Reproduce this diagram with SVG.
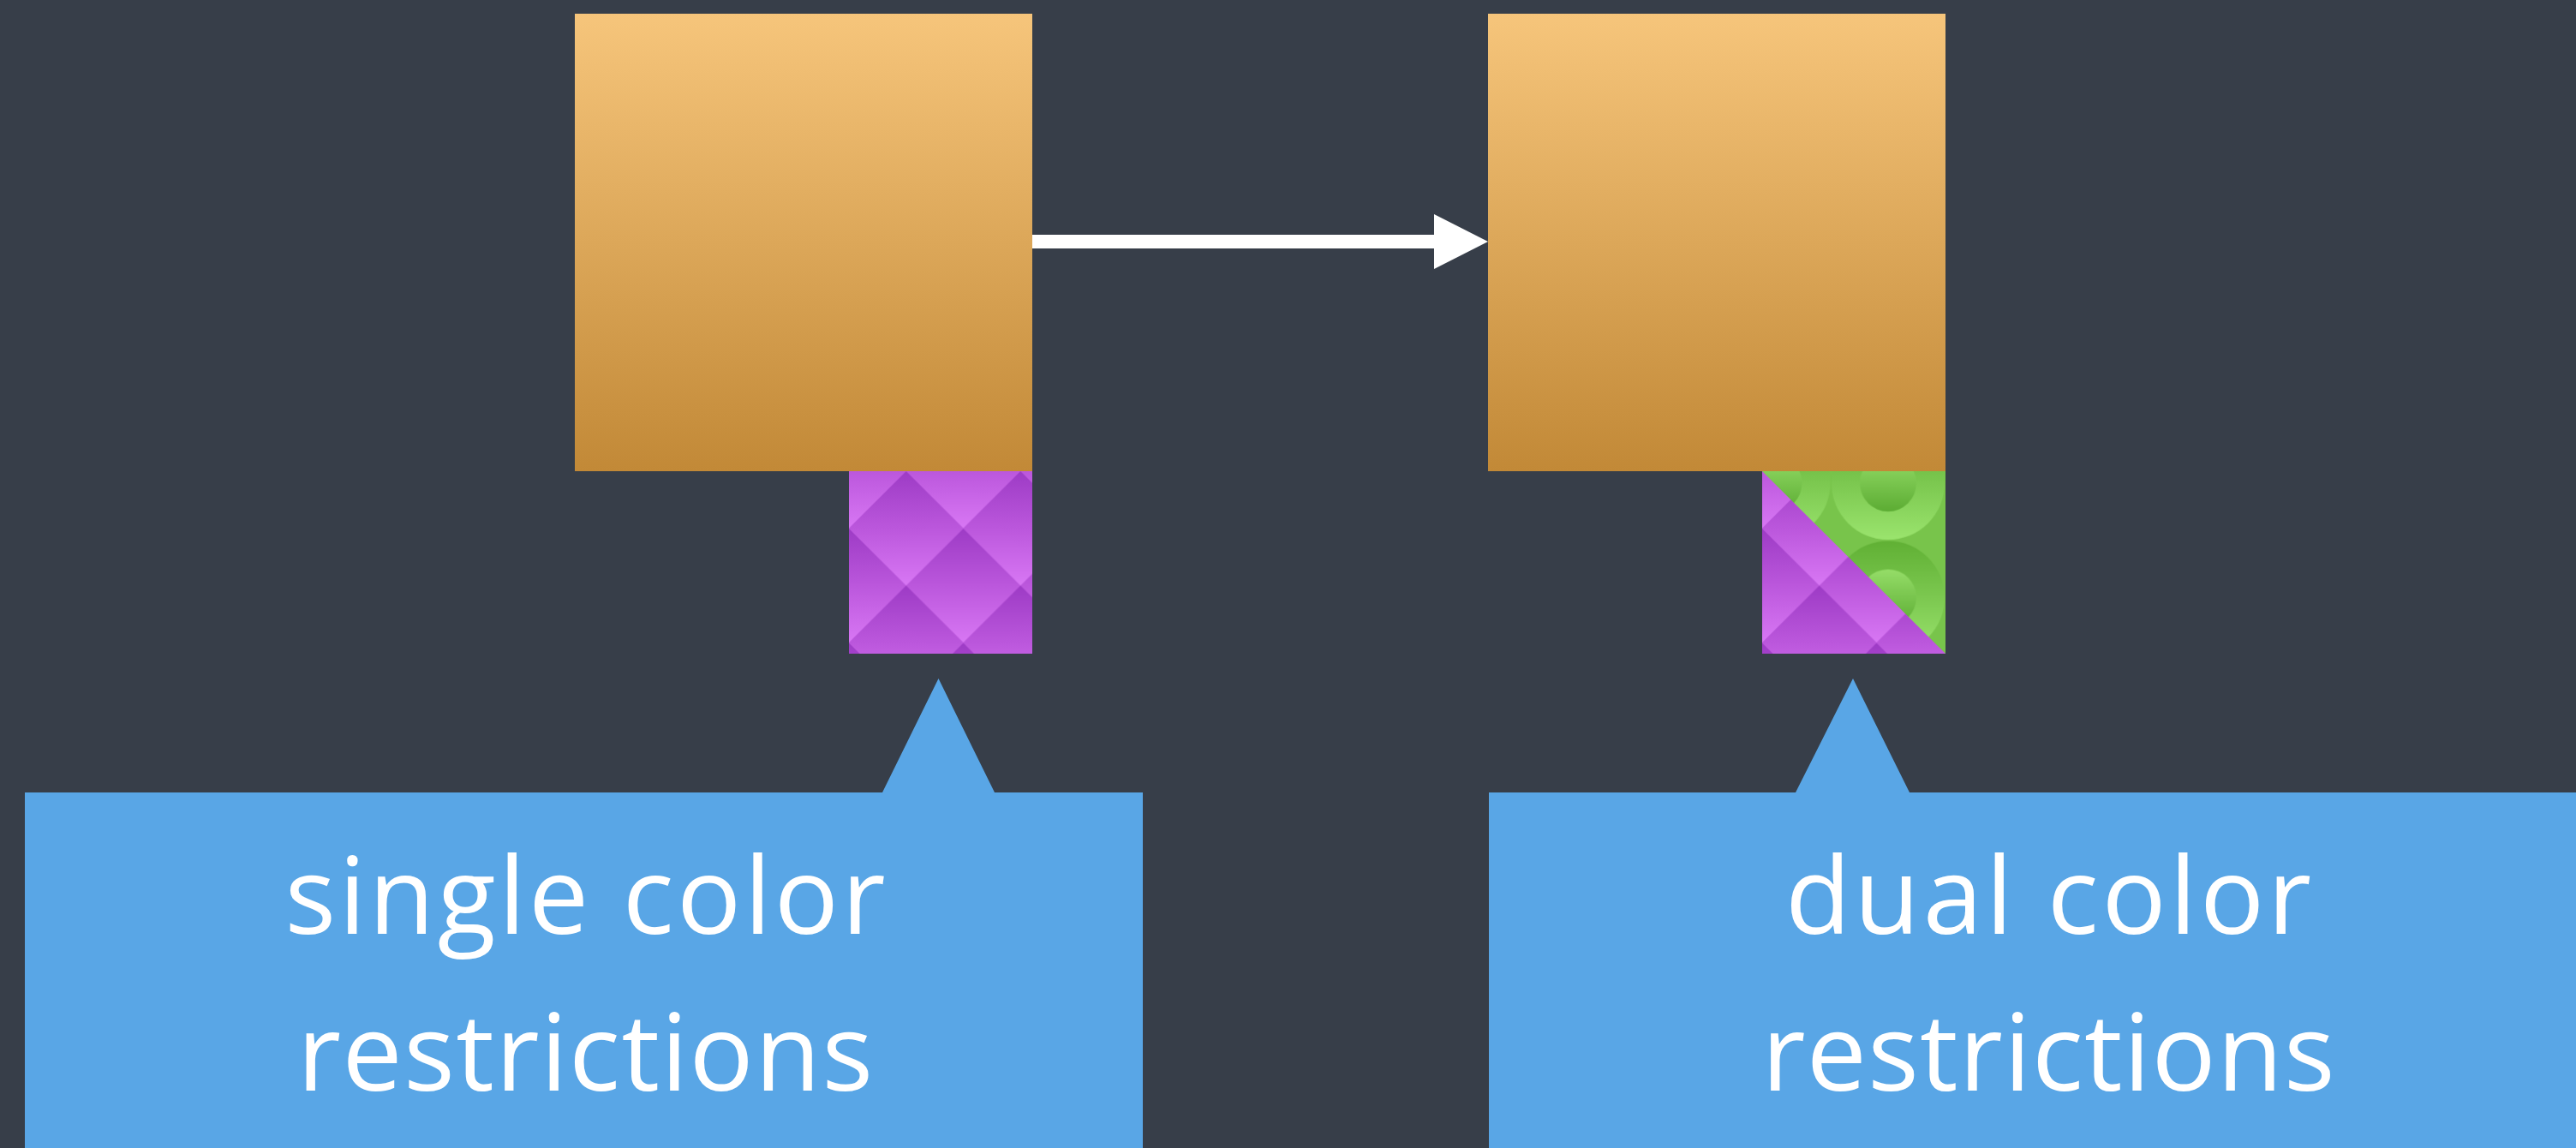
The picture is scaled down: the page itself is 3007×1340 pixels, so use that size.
<svg xmlns="http://www.w3.org/2000/svg" width="3007" height="1340" viewBox="0 0 3007 1340">
  <style>
    .box { fill: url(#orange); }
    .callout { fill: #59a6e6; }
    .label { fill: #ffffff; font-family: "Open Sans", "Liberation Sans", sans-serif; font-size: 125px; font-weight: 400; text-anchor: middle; }
    .conn { stroke: #ffffff; stroke-width: 16; fill: none; }
  </style>
  <defs>
    <linearGradient id="orange" x1="0" y1="0" x2="0" y2="1">
      <stop offset="0" stop-color="#f6c57b"/>
      <stop offset="1" stop-color="#c28937"/>
    </linearGradient>
    <linearGradient id="dia" x1="0" y1="0" x2="0" y2="1">
      <stop offset="0" stop-color="#9d3bc5"/>
      <stop offset="0.5" stop-color="#bb57dc"/>
      <stop offset="1" stop-color="#d877f4"/>
    </linearGradient>
    <linearGradient id="ringOuter" x1="0" y1="0" x2="0" y2="1">
      <stop offset="0" stop-color="#60b034"/>
      <stop offset="0.5" stop-color="#7cc850"/>
      <stop offset="1" stop-color="#9ae46d"/>
    </linearGradient>
    <linearGradient id="ringInner" x1="0" y1="0" x2="0" y2="1">
      <stop offset="0" stop-color="#95dd68"/>
      <stop offset="1" stop-color="#5cac33"/>
    </linearGradient>
    <g id="d">
      <polygon points="0,-66.75 66.75,0 0,66.75 -66.75,0" fill="url(#dia)"/>
    </g>
    <g id="r">
      <circle r="66" fill="url(#ringOuter)"/>
      <circle r="33" fill="url(#ringInner)"/>
    </g>
    <pattern id="purple" patternUnits="userSpaceOnUse" x="0" y="0" width="133.5" height="133.5">
      <rect width="133.5" height="133.5" fill="#bb57dc"/>
      <use href="#d" x="0" y="0"/>
      <use href="#d" x="133.5" y="0"/>
      <use href="#d" x="0" y="133.5"/>
      <use href="#d" x="133.5" y="133.5"/>
      <use href="#d" x="66.75" y="66.75"/>
    </pattern>
    <pattern id="green" patternUnits="userSpaceOnUse" x="0" y="0" width="133.5" height="133.5">
      <rect width="133.5" height="133.5" fill="#78c44b"/>
      <use href="#r" x="13.5" y="14"/>
      <use href="#r" x="147" y="14"/>
      <use href="#r" x="13.5" y="147.5"/>
      <use href="#r" x="147" y="147.5"/>
    </pattern>
    <marker id="arrow" markerUnits="userSpaceOnUse" markerWidth="64" markerHeight="64" refX="6" refY="32" orient="auto">
      <polygon points="0,0 63,32 0,64" fill="#ffffff"/>
    </marker>
  </defs>

  <rect width="3007" height="1340" fill="#373e49"/>

  <g id="connectors">
    <path class="conn" d="M1205,282 H1680" marker-end="url(#arrow)"/>
  </g>

  <g id="box-left">
    <rect class="box" x="671" y="16" width="534" height="534"/>
  </g>
  <g id="tile-left" transform="translate(991,550)">
    <rect width="214" height="213" fill="url(#purple)"/>
  </g>

  <g id="box-right">
    <rect class="box" x="1737" y="16" width="534" height="534"/>
  </g>
  <g id="tile-right" transform="translate(2057,550)">
    <rect width="214" height="213" fill="url(#green)"/>
    <polygon points="0,0 214,213 0,213" fill="url(#purple)"/>
  </g>

  <g id="callout-left">
    <polygon class="callout" points="29,925 1030,925 1095.5,792 1161,925 1334,925 1334,1345 29,1345"/>
    <text class="label" x="683" y="1090" textLength="701" lengthAdjust="spacing">single color</text>
    <text class="label" x="683" y="1273" textLength="672" lengthAdjust="spacing">restrictions</text>
  </g>

  <g id="callout-right">
    <polygon class="callout" points="1738,925 2096,925 2163,792 2229,925 3045,925 3045,1345 1738,1345"/>
    <text class="label" x="2391" y="1090" textLength="614" lengthAdjust="spacing">dual color</text>
    <text class="label" x="2391" y="1273" textLength="669" lengthAdjust="spacing">restrictions</text>
  </g>
</svg>
